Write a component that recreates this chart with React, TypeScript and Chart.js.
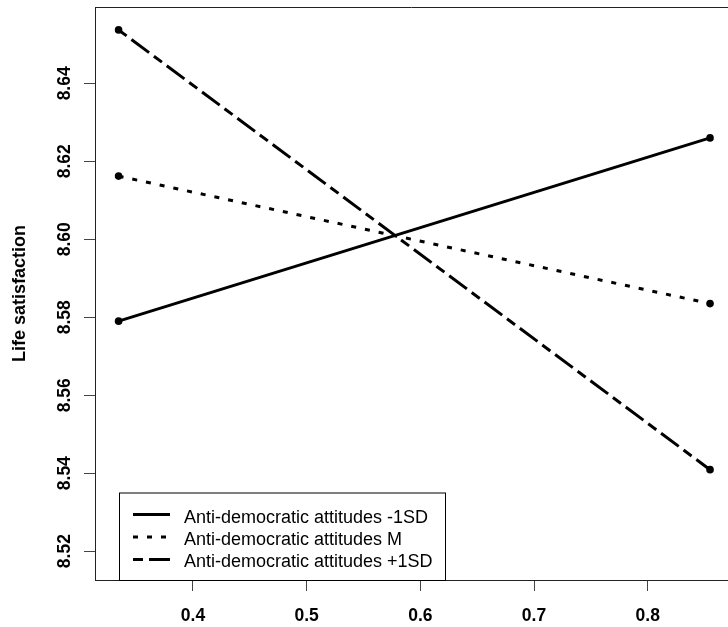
import React, { useEffect, useRef } from "react";
import { Chart, registerables } from "chart.js";

Chart.register(...registerables);

const xValues = [0.3346, 0.8548];
const seriesLow = [8.579, 8.626];
const seriesMean = [8.6162, 8.5835];
const seriesHigh = [8.6537, 8.5409];
const seriesLabels = [
  "Anti-democratic attitudes -1SD",
  "Anti-democratic attitudes M",
  "Anti-democratic attitudes +1SD",
];
const xTicks = [0.4, 0.5, 0.6, 0.7, 0.8];
const xTickLabels = ["0.4", "0.5", "0.6", "0.7", "0.8"];
const yTicks = [8.52, 8.54, 8.56, 8.58, 8.6, 8.62, 8.64];
const yTickLabels = ["8.52", "8.54", "8.56", "8.58", "8.60", "8.62", "8.64"];
const yTitle = "Life satisfaction";

const dashes: number[][] = [[], [5, 9], [10, 6, 22, 6]];

const BOLD = 'bold 17.5px "Liberation Sans", Arial, sans-serif';
const REG = '18px "Liberation Sans", Arial, sans-serif';

const decorPlugin = {
  id: "decor",
  afterDraw(chart: any) {
    const ctx = chart.ctx as CanvasRenderingContext2D;
    const area = chart.chartArea;
    const xs = chart.scales.x;
    const ys = chart.scales.y;
    ctx.save();
    // top border
    ctx.strokeStyle = "#222";
    ctx.lineWidth = 1;
    ctx.beginPath();
    ctx.moveTo(area.left, Math.round(area.top) + 0.5);
    ctx.lineTo(chart.width, Math.round(area.top) + 0.5);
    ctx.stroke();

    ctx.fillStyle = "#000";
    ctx.font = BOLD;
    // x tick labels
    ctx.textAlign = "center";
    ctx.textBaseline = "alphabetic";
    xTicks.forEach((v, i) => {
      ctx.fillText(xTickLabels[i], xs.getPixelForValue(v), 620.5);
    });
    // y tick labels rotated
    yTicks.forEach((v, i) => {
      const y = ys.getPixelForValue(v);
      ctx.save();
      ctx.translate(69.5, y);
      ctx.rotate(-Math.PI / 2);
      ctx.textAlign = "center";
      ctx.fillText(yTickLabels[i], 0, 0);
      ctx.restore();
    });
    // y title
    ctx.save();
    ctx.font = 'bold 18px "Liberation Sans", Arial, sans-serif';
    ctx.translate(25, (area.top + area.bottom) / 2);
    ctx.rotate(-Math.PI / 2);
    ctx.textAlign = "center";
    ctx.fillText(yTitle, 0, 0);
    ctx.restore();

    // legend
    const lx = area.left + 24;
    const ly = 492.5;
    const lw = 326;
    const lh = area.bottom - ly;
    ctx.fillStyle = "#fff";
    ctx.fillRect(lx, ly, lw, lh);
    ctx.strokeStyle = "#000";
    ctx.lineWidth = 1;
    ctx.strokeRect(lx + 0.5, ly + 0.5, lw, lh);
    ctx.font = REG;
    ctx.textAlign = "left";
    ctx.textBaseline = "alphabetic";
    seriesLabels.forEach((lab, i) => {
      const yLine = 514.5 + i * 22.5;
      ctx.strokeStyle = "#000";
      ctx.lineWidth = 3;
      ctx.setLineDash(dashes[i]);
      ctx.beginPath();
      ctx.moveTo(133, yLine);
      ctx.lineTo(170, yLine);
      ctx.stroke();
      ctx.setLineDash([]);
      ctx.fillStyle = "#000";
      ctx.fillText(lab, 184, 523.3 + i * 22);
    });
    ctx.restore();
  },
};

export default function App() {
  const ref = useRef<HTMLCanvasElement | null>(null);
  useEffect(() => {
    if (!ref.current) return;
    const mk = (vals: number[]) => xValues.map((x, i) => ({ x, y: vals[i] }));
    const series = [seriesLow, seriesMean, seriesHigh];
    const chart = new Chart(ref.current, {
      type: "line",
      data: {
        datasets: series.map((s, i) => ({
          label: seriesLabels[i],
          data: mk(s),
          borderColor: "#000",
          backgroundColor: "#000",
          borderWidth: 3,
          borderDash: dashes[i],
          pointRadius: 3.8,
          pointBorderWidth: 0,
          pointBackgroundColor: "#000",
          fill: false,
          tension: 0,
        })),
      },
      options: {
        animation: false,
        responsive: false,
        devicePixelRatio: 1,
        layout: { autoPadding: false, padding: { top: 7, left: 0, right: 0, bottom: 0 } },
        plugins: {
          legend: { display: false },
          tooltip: { enabled: false },
        },
        scales: {
          x: {
            type: "linear",
            min: 0.31385,
            max: 0.8706,
            afterBuildTicks: (s: any) => {
              s.ticks = xTicks.map((v) => ({ value: v }));
            },
            afterFit: (s: any) => {
              s.height = 47;
            },
            ticks: { display: false },
            grid: {
              drawOnChartArea: false,
              drawTicks: true,
              tickLength: 11,
              color: "#444",
            },
            border: { display: true, color: "#222", width: 1 },
          },
          y: {
            type: "linear",
            min: 8.5126,
            max: 8.65958,
            afterBuildTicks: (s: any) => {
              s.ticks = yTicks.map((v) => ({ value: v }));
            },
            afterFit: (s: any) => {
              s.width = 95;
            },
            ticks: { display: false },
            grid: {
              drawOnChartArea: false,
              drawTicks: true,
              tickLength: 11,
              color: "#444",
            },
            border: { display: true, color: "#222", width: 1 },
          },
        },
      },
      plugins: [decorPlugin],
    });
    return () => chart.destroy();
  }, []);
  return (
    <div style={{ position: "fixed", left: 0, top: 0, width: 728, height: 627, background: "#fff" }}>
      <canvas ref={ref} width={728} height={627} style={{ width: 728, height: 627, display: "block" }} />
    </div>
  );
}
